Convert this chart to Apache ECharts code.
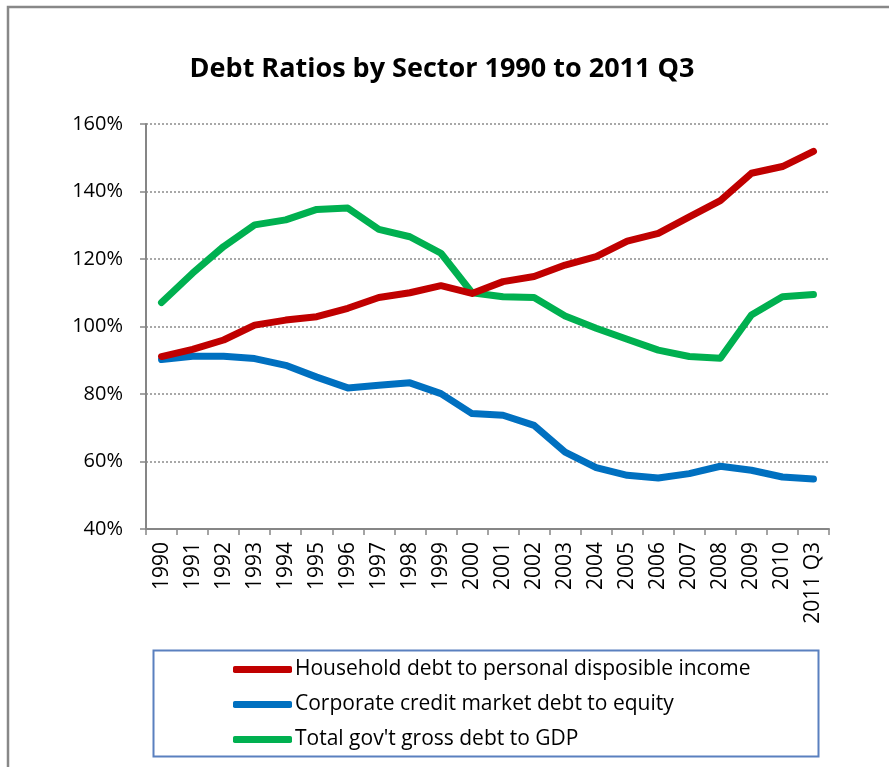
<!DOCTYPE html>
<html>
<head>
<meta charset="utf-8">
<title>Debt Ratios by Sector 1990 to 2011 Q3</title>
<script src="https://cdn.jsdelivr.net/npm/echarts@6/dist/echarts.min.js"></script>
<style>
  html, body { margin: 0; padding: 0; background: #fff; }
  #chart { width: 889px; height: 767px; }
</style>
</head>
<body>
<div id="chart"></div>
<script>
// Periods on the horizontal axis
const periods = ['1990', '1991', '1992', '1993', '1994', '1995', '1996', '1997', '1998', '1999',
  '2000', '2001', '2002', '2003', '2004', '2005', '2006', '2007', '2008', '2009', '2010', '2011 Q3'];

// Debt ratios, in percent
const householdDebt = [91.1, 93.2, 96.0, 100.4, 101.9, 102.9, 105.4, 108.6, 110.0, 112.1,
  109.8, 113.3, 114.8, 118.2, 120.7, 125.3, 127.6, 132.5, 137.3, 145.4, 147.4, 151.9];
const corporateDebt = [90.2, 91.2, 91.2, 90.5, 88.5, 85.0, 81.8, 82.6, 83.3, 80.1,
  74.2, 73.7, 70.7, 62.8, 58.2, 55.9, 55.1, 56.4, 58.6, 57.4, 55.4, 54.8];
const governmentDebt = [107.1, 115.8, 123.7, 130.1, 131.6, 134.7, 135.1, 128.8, 126.6, 121.7,
  110.0, 108.8, 108.6, 103.1, 99.5, 96.2, 93.0, 91.1, 90.6, 103.4, 108.8, 109.5];

// Value axis ticks
const yTicks = [40, 60, 80, 100, 120, 140, 160];

const seriesNames = [
  'Household debt to personal disposible income',
  'Corporate credit market debt to equity',
  "Total gov't gross debt to GDP"
];
const seriesColors = ['#c00000', '#0070c0', '#00b050'];
const seriesData = [householdDebt, corporateDebt, governmentDebt];

const FONT = '"Open Sans", "Noto Sans", sans-serif';
const AXIS_GREY = '#868686';

const chart = echarts.init(document.getElementById('chart'), null, { renderer: 'canvas' });

chart.setOption({
  animation: false,
  backgroundColor: '#ffffff',
  textStyle: { fontFamily: FONT },
  title: {
    text: 'Debt Ratios by Sector 1990 to 2011 Q3',
    left: 437,
    textAlign: 'center',
    top: 51,
    textStyle: { fontFamily: FONT, fontSize: 27, fontWeight: 'bold', color: '#000' }
  },
  grid: { left: 146, right: 60, top: 124, bottom: 238, containLabel: false },
  xAxis: {
    type: 'category',
    data: periods,
    boundaryGap: true,
    axisLine: { lineStyle: { color: AXIS_GREY, width: 2 } },
    axisTick: { show: true, length: 6, lineStyle: { color: AXIS_GREY, width: 1.5 } },
    axisLabel: {
      rotate: 90,
      interval: 0,
      margin: 13,
      fontFamily: FONT,
      fontSize: 21,
      color: '#000'
    },
    splitLine: { show: false }
  },
  yAxis: {
    type: 'value',
    min: yTicks[0],
    max: yTicks[yTicks.length - 1],
    interval: yTicks[1] - yTicks[0],
    axisLine: { show: true, lineStyle: { color: AXIS_GREY, width: 2 } },
    axisTick: { show: true, length: 6, lineStyle: { color: AXIS_GREY, width: 1.5 } },
    axisLabel: {
      margin: 23,
      fontFamily: FONT,
      fontSize: 20,
      color: '#000',
      formatter: v => v + '%'
    },
    splitLine: { show: true, lineStyle: { color: '#8c8c8c', type: [2, 2], width: 1.5 } }
  },
  legend: {
    orient: 'vertical',
    left: 233,
    top: 659,
    itemWidth: 59,
    itemHeight: 7,
    itemGap: 14,
    icon: 'roundRect',
    padding: 0,
    textStyle: { fontFamily: FONT, fontSize: 21, color: '#000', lineHeight: 21, padding: [0, 0, 0, -2] },
    data: seriesNames
  },
  graphic: [
    {
      type: 'polyline',
      shape: { points: [[8, 767], [8, 7], [889, 7]] },
      style: { stroke: '#888888', lineWidth: 2.5, fill: null },
      silent: true
    },
    {
      type: 'rect',
      shape: { x: 153.5, y: 650.5, width: 665, height: 106 },
      style: { stroke: '#5a80bf', lineWidth: 2, fill: null },
      silent: true,
      z: -1
    }
  ],
  series: seriesNames.map((name, i) => ({
    name: name,
    type: 'line',
    data: seriesData[i],
    symbol: 'none',
    smooth: false,
    lineStyle: { color: seriesColors[i], width: 7, cap: 'round', join: 'round' },
    itemStyle: { color: seriesColors[i] },
    z: 3 - i
  }))
});
</script>
</body>
</html>
